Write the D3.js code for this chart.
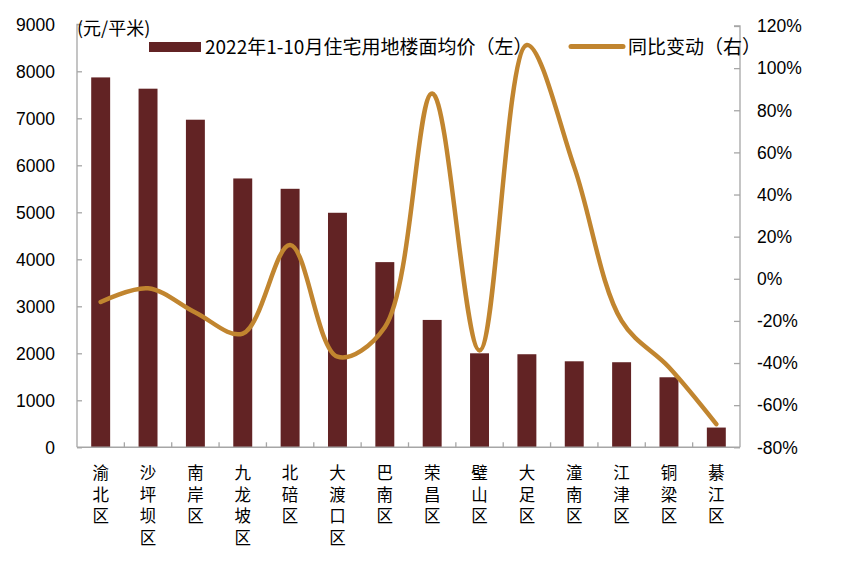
<!DOCTYPE html>
<html><head><meta charset="utf-8">
<script src="https://cdn.jsdelivr.net/npm/d3@7"></script>
<style>body{margin:0;background:#fff}svg{display:block}</style>
</head><body>
<svg id="c" width="841" height="569"></svg>
<script>
const categories = ["渝北区","沙坪坝区","南岸区","九龙坡区","北碚区","大渡口区","巴南区","荣昌区","璧山区","大足区","潼南区","江津区","铜梁区","綦江区"];
const priceValues = [7870, 7630, 6970, 5720, 5500, 4990, 3940, 2710, 2000, 1980, 1830, 1810, 1490, 420];
const yoyValues = [-11, -4.5, -16, -26, 16, -37, -23, 88, -34, 111, 53, -20, -42, -69];
const leftTicks = [0,1000,2000,3000,4000,5000,6000,7000,8000,9000];
const rightTicks = [-80,-60,-40,-20,0,20,40,60,80,100,120];
const legendLabels = ["2022年1-10月住宅用地楼面均价（左）", "同比变动（右）"];
const yTitle = "(元/平米)";

const svg = d3.select("#c");
const L = 77, R = 740, B = 447.3;
const barColor = "#622324", lineColor = "#C1852F", axisColor = "#a6a6a6";
const numFont = "'Liberation Sans', Arial, 'Noto Sans CJK SC', sans-serif";
const cjkFont = "'Noto Sans CJK SC', sans-serif";

const x = d3.scaleBand().domain(categories).range([L, R]).paddingInner(0.6).paddingOuter(0.3);
const yL = d3.scaleLinear().domain([0, 9000]).range([B, 24.3]);
const yR = d3.scaleLinear().domain([-80, 120]).range([B, 26]);

// bars
svg.append("g").selectAll("rect").data(categories).join("rect")
  .attr("x", d => x(d)).attr("width", x.bandwidth())
  .attr("y", (d,i) => yL(priceValues[i])).attr("height", (d,i) => B - yL(priceValues[i]))
  .attr("fill", barColor);

// left axis
const gl = svg.append("g").attr("transform", `translate(${L},0)`)
  .call(d3.axisRight(yL).tickValues(leftTicks).tickSize(5).tickFormat(""));
gl.selectAll("path,line").attr("stroke", axisColor).attr("stroke-width", 1.3);
gl.select(".domain").attr("d", `M5,${yL(9000)}H0V${B}`);
svg.append("g").selectAll("text").data(leftTicks).join("text")
  .attr("x", 55).attr("y", d => yL(d)).attr("dy", "0.36em").attr("text-anchor", "end")
  .attr("font-family", numFont).attr("font-size", 17.5).attr("fill", "#000").text(d => d);

// right axis
const gr = svg.append("g").attr("transform", `translate(${R},0)`)
  .call(d3.axisLeft(yR).tickValues(rightTicks).tickSize(6).tickFormat(""));
gr.selectAll("path,line").attr("stroke", axisColor).attr("stroke-width", 1.3);
gr.select(".domain").attr("d", `M-6,${yR(120)}H0V${B}`);
svg.append("g").selectAll("text").data(rightTicks).join("text")
  .attr("x", 757).attr("y", d => yR(d)).attr("dy", "0.36em").attr("text-anchor", "start")
  .attr("font-family", numFont).attr("font-size", 17.5).attr("fill", "#000").text(d => d + "%");

// bottom axis
const sepTicks = categories.slice(1).map(c => x(c) - x.step() * x.paddingInner() / 2);
const gb = svg.append("g");
gb.append("line").attr("x1", L).attr("x2", R).attr("y1", B).attr("y2", B).attr("stroke", axisColor).attr("stroke-width", 1.5);
gb.selectAll("line.t").data(sepTicks).join("line").attr("class","t")
  .attr("x1", d => d).attr("x2", d => d).attr("y1", B).attr("y2", B - 5).attr("stroke", axisColor).attr("stroke-width", 1.3);

// category labels (vertical, one char per text)
const labChars = [];
categories.forEach(c => Array.from(c).forEach((ch, k) => labChars.push({c, ch, k})));
svg.append("g").selectAll("text").data(labChars).join("text")
  .attr("x", d => x(d.c) + x.bandwidth()/2).attr("y", d => 479 + d.k * 21.7)
  .attr("font-family", cjkFont).attr("font-size", 16.5).attr("fill", "#000").attr("text-anchor", "middle")
  .text(d => d.ch);

// line
const line = d3.line().x((d,i) => x(categories[i]) + x.bandwidth()/2).y(d => yR(d)).curve(d3.curveCatmullRom.alpha(0.5));
svg.append("path").datum(yoyValues).attr("d", line).attr("fill", "none")
  .attr("stroke", lineColor).attr("stroke-width", 4.5).attr("stroke-linecap", "round");

// y title
svg.append("text").attr("x", 77).attr("y", 35).attr("font-family", cjkFont).attr("font-size", 18).attr("fill", "#000").text(yTitle);

// legend
svg.append("rect").attr("x", 149).attr("y", 42).attr("width", 52).attr("height", 10).attr("fill", barColor);
svg.append("text").attr("x", 205).attr("y", 53.5).attr("font-family", cjkFont).attr("font-size", 19).attr("fill", "#000").text(legendLabels[0]);
svg.append("line").attr("x1", 571).attr("x2", 623).attr("y1", 46.5).attr("y2", 46.5).attr("stroke", lineColor).attr("stroke-width", 5).attr("stroke-linecap","round");
svg.append("text").attr("x", 628).attr("y", 53.5).attr("font-family", cjkFont).attr("font-size", 19).attr("fill", "#000").text(legendLabels[1]);
</script>
</body></html>
